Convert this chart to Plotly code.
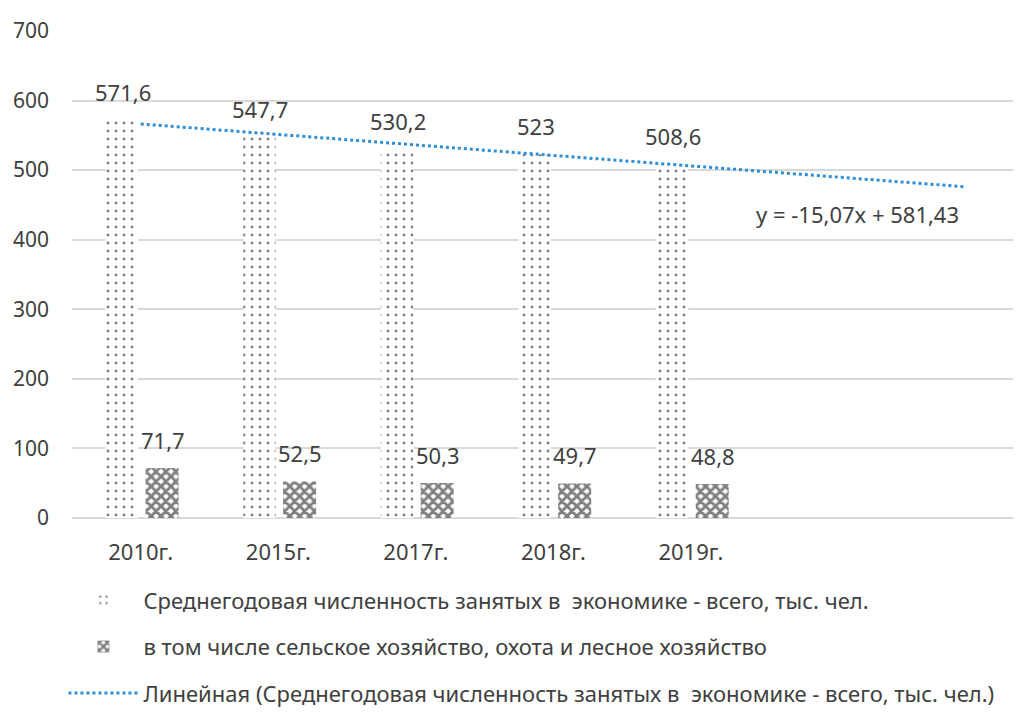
import numpy as np
import plotly.graph_objects as go

categories = ["2010г.", "2015г.", "2017г.", "2018г.", "2019г."]
total_employed = [571.6, 547.7, 530.2, 523, 508.6]
agri_employed = [71.7, 52.5, 50.3, 49.7, 48.8]
label_total = ["571,6", "547,7", "530,2", "523", "508,6"]
label_agri = ["71,7", "52,5", "50,3", "49,7", "48,8"]
y_ticks = [0, 100, 200, 300, 400, 500, 600, 700]

name_total = "Среднегодовая численность занятых в  экономике - всего, тыс. чел."
name_agri = "в том числе сельское хозяйство, охота и лесное хозяйство"
name_trend = "Линейная (Среднегодовая численность занятых в  экономике - всего, тыс. чел.)"
forecast_forward = 2
equation_text = "y = -15,07x + 581,43"

FONT = "Noto Sans"
TXT = "#404040"
FS = 22

pos = np.arange(1, len(categories) + 1)
slope, intercept = np.polyfit(pos, total_employed, 1)
trend_x = np.array([1, len(categories) + forecast_forward])
trend_y = slope * trend_x + intercept

fig = go.Figure()
fig.add_trace(go.Bar(
    x=pos, y=total_employed, name=name_total, legendgroup="a",
    offset=-0.255, width=0.235,
    marker=dict(color="white", line=dict(width=0),
                pattern=dict(shape=".", fgcolor="#000000", bgcolor="white",
                             size=8, solidity=0.1, fillmode="overlay")),
))
fig.add_trace(go.Bar(
    x=pos, y=agri_employed, name=name_agri, legendgroup="b",
    offset=0.035, width=0.24,
    marker=dict(color="white", line=dict(width=0),
                pattern=dict(shape="x", fgcolor="#000000", bgcolor="white",
                             size=7, solidity=0.65, fillmode="overlay")),
))
fig.add_trace(go.Scatter(
    x=trend_x, y=trend_y, mode="lines", name=name_trend, legendgroup="c",
    line=dict(color="#2E8FD6", width=3, dash="dot"),
))

for i in range(len(categories)):
    fig.add_annotation(x=pos[i] - 0.13, y=total_employed[i], text=label_total[i],
                       showarrow=False, yanchor="middle", yshift=28,
                       font=dict(family=FONT, size=FS, color=TXT))
    fig.add_annotation(x=pos[i] + 0.16, y=agri_employed[i], text=label_agri[i],
                       showarrow=False, yanchor="middle", yshift=28,
                       font=dict(family=FONT, size=FS, color=TXT))

fig.add_annotation(x=6.21, y=trend_y[-1], text=equation_text,
                   showarrow=False, yanchor="middle", yshift=-27,
                   font=dict(family=FONT, size=FS, color=TXT))

fig.update_layout(
    width=1013, height=706,
    margin=dict(l=64, r=0, t=23, b=196, autoexpand=False),
    plot_bgcolor="white", paper_bgcolor="white",
    font=dict(family=FONT, size=FS, color=TXT),
    showlegend=True,
    legend=dict(orientation="v", x=-0.009, xanchor="left", y=-0.1255, yanchor="top",
                tracegroupgap=15, font=dict(size=FS, color=TXT),
                traceorder="grouped", itemwidth=70),
    barmode="overlay",
)
fig.update_xaxes(range=[0.5, 7.4], tickmode="array", tickvals=pos, ticktext=categories,
                 showgrid=False, zeroline=False, showline=False, ticks="",
                 ticklabelstandoff=19, tickfont=dict(size=FS, color=TXT))
fig.update_yaxes(range=[0, 700], tickvals=y_ticks, showgrid=True, gridcolor="#D9D9D9",
                 gridwidth=1.5, zeroline=True, zerolinecolor="#D9D9D9", zerolinewidth=1.5,
                 ticks="", ticklabelstandoff=22, tickfont=dict(size=21, color=TXT))

fig.write_html("out.html")
